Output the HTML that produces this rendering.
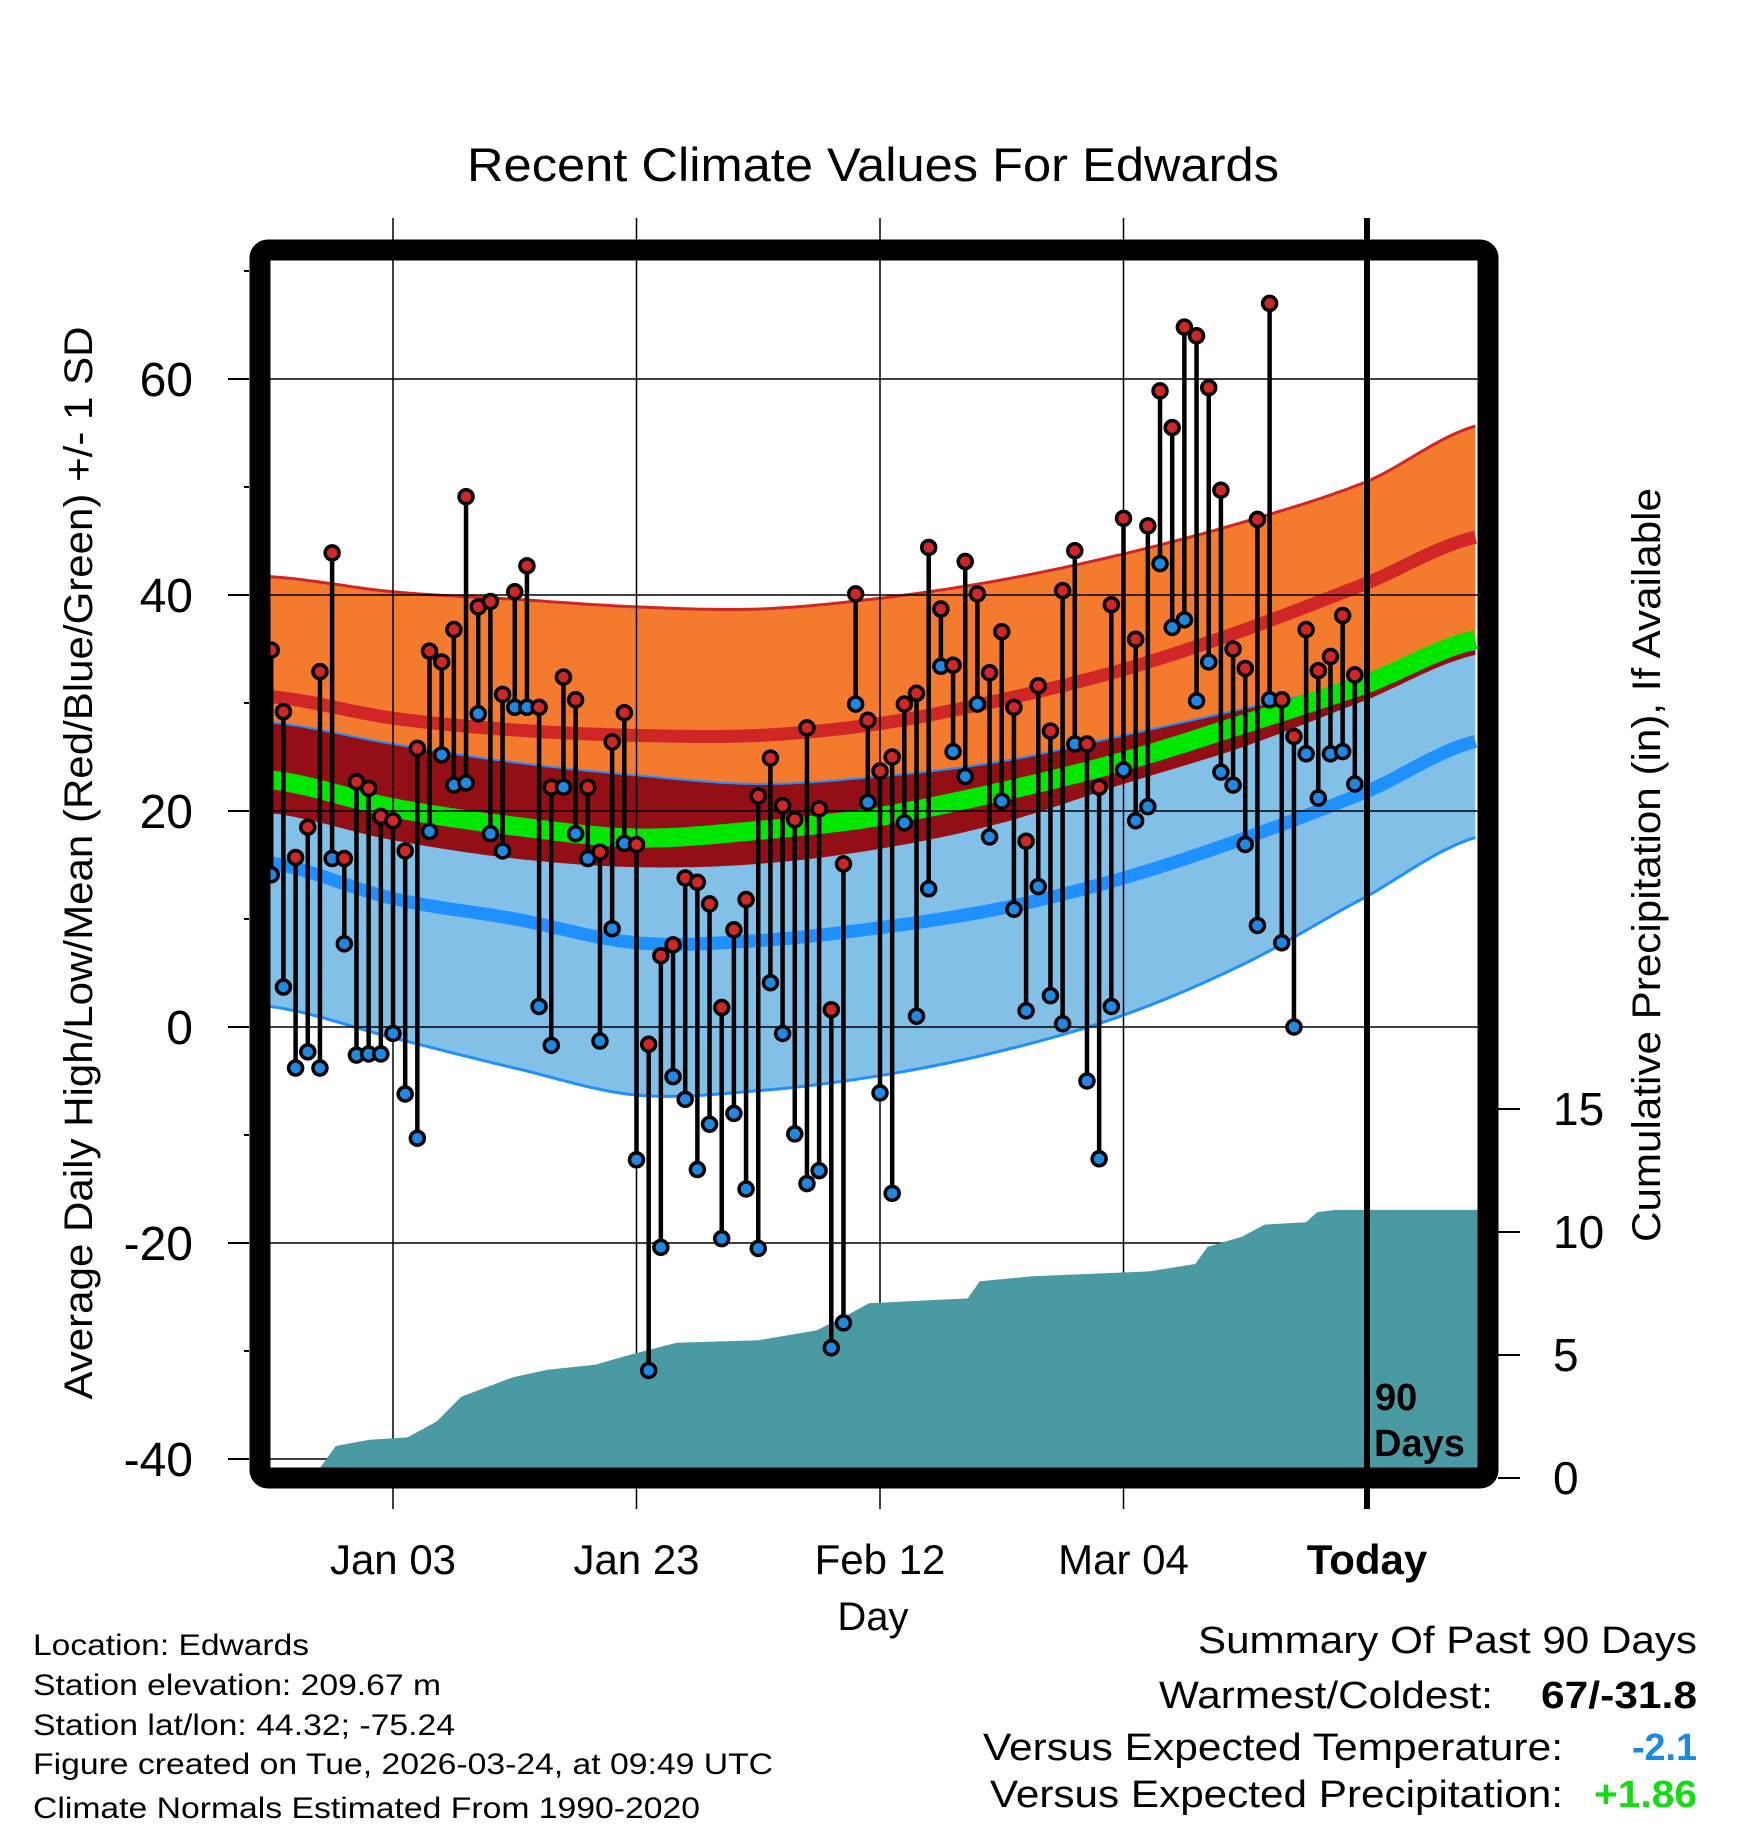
<!DOCTYPE html>
<html><head><meta charset="utf-8"><style>
html,body{margin:0;padding:0;background:#fff;}
svg{display:block;font-family:"Liberation Sans",sans-serif;}
</style></head><body>
<svg id="chart" width="1748" height="1828" viewBox="0 0 1748 1828" xmlns="http://www.w3.org/2000/svg">
<defs><clipPath id="plotclip"><rect x="270" y="260" width="1208" height="1208"/></clipPath></defs>
<text x="873" y="181" font-size="47" text-anchor="middle" textLength="812" lengthAdjust="spacingAndGlyphs">Recent Climate Values For Edwards</text>
<g id="bands" clip-path="url(#plotclip)"></g>
<g id="grid"></g>
<g id="marks"></g>
<g id="axes"></g>
<text transform="translate(92,863) rotate(-90)" font-size="40" text-anchor="middle" textLength="1073" lengthAdjust="spacingAndGlyphs">Average Daily High/Low/Mean (Red/Blue/Green) +/- 1 SD</text>
<text transform="translate(1660,865) rotate(-90)" font-size="40" text-anchor="middle" textLength="754" lengthAdjust="spacingAndGlyphs">Cumulative Precipitation (in), If Available</text>
<text x="873" y="1630" font-size="40" text-anchor="middle">Day</text>
<g font-size="30">
<text x="33" y="1655" textLength="276" lengthAdjust="spacingAndGlyphs">Location: Edwards</text>
<text x="33" y="1695" textLength="408" lengthAdjust="spacingAndGlyphs">Station elevation: 209.67 m</text>
<text x="33" y="1735" textLength="422" lengthAdjust="spacingAndGlyphs">Station lat/lon: 44.32; -75.24</text>
<text x="33" y="1774" textLength="740" lengthAdjust="spacingAndGlyphs">Figure created on Tue, 2026-03-24, at 09:49 UTC</text>
<text x="33" y="1818" textLength="667" lengthAdjust="spacingAndGlyphs">Climate Normals Estimated From 1990-2020</text>
</g>
<g font-size="38">
<text x="1198" y="1653" textLength="499" lengthAdjust="spacingAndGlyphs">Summary Of Past 90 Days</text>
<text x="1159" y="1708" textLength="334" lengthAdjust="spacingAndGlyphs">Warmest/Coldest:</text>
<text x="1541" y="1708" font-weight="bold" textLength="156" lengthAdjust="spacingAndGlyphs">67/-31.8</text>
<text x="983" y="1760" textLength="580" lengthAdjust="spacingAndGlyphs">Versus Expected Temperature:</text>
<text x="1632" y="1760" font-weight="bold" fill="#1e88e5" textLength="65" lengthAdjust="spacingAndGlyphs">-2.1</text>
<text x="990" y="1807" textLength="573" lengthAdjust="spacingAndGlyphs">Versus Expected Precipitation:</text>
<text x="1594" y="1807" font-weight="bold" fill="#11dd11" textLength="103" lengthAdjust="spacingAndGlyphs">+1.86</text>
</g>
</svg>
<script>
// ---- data ----
const highs=[34.9,29.2,15.7,18.5,32.9,43.9,15.6,22.7,22.1,19.5,19.1,16.3,25.8,34.8,33.8,36.8,49.1,38.9,39.4,30.8,40.3,42.7,29.6,22.2,32.4,30.3,22.2,16.2,26.4,29.1,16.9,-1.6,6.6,7.6,13.8,13.4,11.4,1.8,9.0,11.8,21.4,24.9,20.5,19.2,27.7,20.2,1.6,15.1,40.1,28.4,23.7,25.0,29.9,30.9,44.4,38.7,33.5,43.1,40.1,32.8,36.6,29.6,17.2,31.6,27.4,40.4,44.1,26.2,22.2,39.1,47.1,35.9,46.4,58.9,55.5,64.8,64.0,59.2,49.7,35.0,33.2,47.0,67.0,30.3,26.9,36.8,33.0,34.3,38.1,32.6];
const lows=[14.1,3.7,-3.8,-2.3,-3.8,15.6,7.7,-2.6,-2.5,-2.5,-0.6,-6.2,-10.3,18.1,25.2,22.4,22.6,29.0,17.9,16.3,29.6,29.6,1.9,-1.7,22.2,17.9,15.6,-1.3,9.1,17.0,-12.3,-31.8,-20.4,-4.6,-6.7,-13.2,-9.0,-19.6,-8.0,-15.0,-20.5,4.1,-0.6,-9.9,-14.5,-13.3,-29.7,-27.4,29.9,20.8,-6.1,-15.4,18.9,1.0,12.8,33.4,25.5,23.2,29.9,17.6,20.9,10.9,1.5,13.0,2.9,0.3,26.2,-5.0,-12.2,1.9,23.8,19.1,20.4,42.9,37.0,37.7,30.2,33.8,23.6,22.4,16.9,9.4,30.3,7.8,0.0,25.3,21.2,25.3,25.5,22.5];
const firstDay=-10; // days relative to Jan 03
const normDays=[-10.1,0,10,20,30,40,50,60,70,80,89.1];
const hiPlus=[41.7,40.3,39.6,38.9,38.7,39.7,41.4,43.8,46.8,50.5,55.7];
const hiMean=[30.6,28.6,27.5,27.0,27.0,28.1,30.3,33.1,36.8,41.1,45.4];
const hiMinus=[19.8,17.3,15.6,14.8,15.1,16.5,18.9,22.5,26.0,30.3,34.5];
const avgMean=[22.9,20.3,18.6,17.5,18.2,19.5,21.8,24.6,28.1,31.8,35.9];
const loPlus=[28.2,26.2,24.5,23.3,22.5,23.2,24.6,27.0,29.5,32.0,35.0];
const loMean=[15.2,11.9,10.0,7.8,8.0,9.2,11.0,13.8,17.5,21.8,26.5];
const loMinus=[1.9,-1.0,-3.8,-6.3,-5.9,-4.5,-2.2,1.1,5.9,12.1,17.6];
const precipDays=[-10.1,-6.6,-4.7,-2.0,1.2,3.6,5.6,9.9,12.7,16.6,19.4,23.3,30.0,34.8,37.6,39.1,47.2,48.2,52.5,62.1,65.9,66.9,69.7,71.6,75.0,75.9,77.4,89.1];
const precipCum=[0,0,1.3,1.55,1.65,2.3,3.3,4.1,4.4,4.6,5.0,5.5,5.6,6.0,6.7,7.1,7.3,8.0,8.2,8.4,8.7,9.4,9.8,10.3,10.4,10.8,10.9,10.9];
const yTicks=[-40,-20,0,20,40,60];
const pTicks=[0,5,10,15];
const xTickDays=[0,20,40,60,80];
const xTickLabels=["Jan 03","Jan 23","Feb 12","Mar 04","Today"];

// ---- scales ----
const X=d=>393+d*12.175;
const Y=v=>1027-v*10.8;
const P=p=>1478-p*24.6;
const NS="http://www.w3.org/2000/svg";
function mk(tag,parent,attrs){const e=document.createElementNS(NS,tag);for(const k in attrs)e.setAttribute(k,attrs[k]);parent.appendChild(e);return e;}
function interp(xs,ys,x){ // catmull-rom
  let i=0;while(i<xs.length-2&&x>xs[i+1])i++;
  const t=(x-xs[i])/(xs[i+1]-xs[i]);
  const y0=ys[Math.max(i-1,0)],y1=ys[i],y2=ys[i+1],y3=ys[Math.min(i+2,ys.length-1)];
  const t2=t*t,t3=t2*t;
  return 0.5*((2*y1)+(-y0+y2)*t+(2*y0-5*y1+4*y2-y3)*t2+(-y0+3*y1-3*y2+y3)*t3);
}
const sampleD=[];for(let d=-10.1;d<=89.15;d+=0.5)sampleD.push(d);
function curve(arr){return sampleD.map(d=>[X(d),Y(interp(normDays,arr,d))]);}
function line(pts){return "M"+pts.map(p=>p[0].toFixed(1)+","+p[1].toFixed(1)).join("L");}
function band(top,bot){return line(top)+"L"+bot.slice().reverse().map(p=>p[0].toFixed(1)+","+p[1].toFixed(1)).join("L")+"Z";}

const bands=document.getElementById('bands');
const oTop=curve(hiPlus),oBot=curve(hiMinus),bTop=curve(loPlus),bBot=curve(loMinus);
let e;
e=mk('path',bands,{d:band(oTop,oBot),fill:'#f47a2e'});


e=mk('path',bands,{d:band(bTop,bBot),fill:'#83c0e7'});


const ovTop=sampleD.map(d=>[X(d),Y(Math.min(interp(normDays,hiPlus,d),interp(normDays,loPlus,d)))]);
const ovBot=sampleD.map(d=>[X(d),Y(Math.min(Math.max(interp(normDays,loMinus,d),interp(normDays,hiMinus,d)),interp(normDays,loPlus,d)))]);
e=mk('path',bands,{d:band(ovTop,ovBot),fill:'#940f15'});


e=mk('path',bands,{d:line(oTop),fill:'none',stroke:'#d02626','stroke-width':3});


e=mk('path',bands,{d:line(bTop),fill:'none',stroke:'#1e90ff','stroke-width':2});


e=mk('path',bands,{d:line(bBot),fill:'none',stroke:'#1e90ff','stroke-width':3});


e=mk('path',bands,{d:line(curve(hiMean)),fill:'none',stroke:'#d02626','stroke-width':13});


e=mk('path',bands,{d:line(curve(loMean)),fill:'none',stroke:'#1e90ff','stroke-width':13});


e=mk('path',bands,{d:line(curve(avgMean)),fill:'none',stroke:'#00e800','stroke-width':19});



// grid
const grid=document.getElementById('grid');
yTicks.forEach(v=>{
  const g=mk('line',grid,{x1:270,x2:1478,y1:Y(v),y2:Y(v),stroke:'#000','stroke-width':1.5});
  
  
});
xTickDays.forEach(d=>{
  const g=mk('line',grid,{x1:X(d),x2:X(d),y1:218,y2:1509,stroke:'#000','stroke-width':1.5});
  
  
});

// precip area
const marks=document.getElementById('marks');
let pd="M"+X(precipDays[0])+","+P(0);
for(let i=0;i<precipDays.length;i++){pd+="L"+X(precipDays[i]).toFixed(1)+","+P(precipCum[i]).toFixed(1);}
pd+="L"+X(precipDays[precipDays.length-1]).toFixed(1)+","+P(0)+"Z";
e=mk('path',marks,{d:pd,fill:'#4a9aa3'});



// stems & points
highs.forEach((h,i)=>{
  const x=X(firstDay+i);
  const s=mk('line',marks,{x1:x,x2:x,y1:Y(h),y2:Y(lows[i]),stroke:'#000','stroke-width':4.5});
  
  
});
highs.forEach((h,i)=>{
  const x=X(firstDay+i);
  const c1=mk('circle',marks,{cx:x,cy:Y(lows[i]),r:7,fill:'#1e88e5',stroke:'#000','stroke-width':3.5});
  
  
  const c2=mk('circle',marks,{cx:x,cy:Y(h),r:7,fill:'#d02626',stroke:'#000','stroke-width':3.5});
  
  
});
e=mk('line',marks,{x1:X(80),x2:X(80),y1:218,y2:1509,stroke:'#000','stroke-width':6});


e=mk('text',marks,{x:1375,y:1410,'font-size':38,'font-weight':'bold'});e.textContent='90';


e=mk('text',marks,{x:1374,y:1456,'font-size':38,'font-weight':'bold'});e.textContent='Days';



// axes
const axes=document.getElementById('axes');
e=mk('rect',axes,{x:260,y:250,width:1228,height:1228,rx:8,fill:'none',stroke:'#000','stroke-width':21});


for(let v=-40;v<=70;v+=10){
  const major=yTicks.includes(v);
  const t=mk('line',axes,{x1:major?228:244,x2:249,y1:Y(v),y2:Y(v),stroke:'#000','stroke-width':2});
  
  
}
yTicks.forEach(v=>{
  const t=mk('text',axes,{x:193,y:Y(v)+17,'font-size':48,'text-anchor':'end'});t.textContent=v;
  
  
});
pTicks.forEach(p=>{
  const t=mk('line',axes,{x1:1498,x2:1520,y1:P(p),y2:P(p),stroke:'#000','stroke-width':2});
  
  
  const l=mk('text',axes,{x:1553,y:P(p)+16,'font-size':46});l.textContent=p;
  
  
});
xTickDays.forEach((d,i)=>{
  const l=mk('text',axes,{x:X(d),y:1574,'font-size':42,'text-anchor':'middle','font-weight':i===4?'bold':'normal'});l.textContent=xTickLabels[i];
  
  
});
</script>
</body></html>
